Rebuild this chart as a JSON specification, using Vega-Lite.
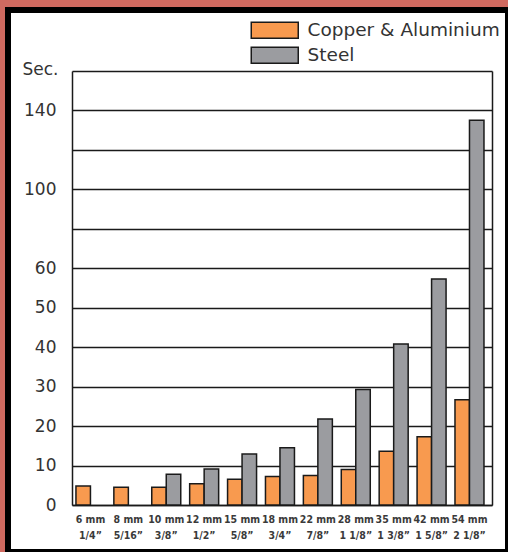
{
  "$schema": "https://vega.github.io/schema/vega-lite/v6.json",
  "width": 500,
  "height": 542,
  "autosize": {"type": "none"},
  "padding": {"left": 8, "top": 10, "right": 0, "bottom": 0},
  "background": "#d06a60",
  "config": {"view": {"fill": "white", "stroke": "black", "strokeWidth": 6}},
  "data": {"values": [
    {"size": "6 mm|1/4”", "metal": "Copper & Aluminium", "sec": 4.8},
    {"size": "8 mm|5/16”", "metal": "Copper & Aluminium", "sec": 4.5},
    {"size": "10 mm|3/8”", "metal": "Copper & Aluminium", "sec": 4.5},
    {"size": "10 mm|3/8”", "metal": "Steel", "sec": 7.8},
    {"size": "12 mm|1/2”", "metal": "Copper & Aluminium", "sec": 5.4},
    {"size": "12 mm|1/2”", "metal": "Steel", "sec": 9.1},
    {"size": "15 mm|5/8”", "metal": "Copper & Aluminium", "sec": 6.5},
    {"size": "15 mm|5/8”", "metal": "Steel", "sec": 12.9},
    {"size": "18 mm|3/4”", "metal": "Copper & Aluminium", "sec": 7.2},
    {"size": "18 mm|3/4”", "metal": "Steel", "sec": 14.5},
    {"size": "22 mm|7/8”", "metal": "Copper & Aluminium", "sec": 7.5},
    {"size": "22 mm|7/8”", "metal": "Steel", "sec": 21.8},
    {"size": "28 mm|1 1/8”", "metal": "Copper & Aluminium", "sec": 9.0},
    {"size": "28 mm|1 1/8”", "metal": "Steel", "sec": 29.3},
    {"size": "35 mm|1 3/8”", "metal": "Copper & Aluminium", "sec": 13.6},
    {"size": "35 mm|1 3/8”", "metal": "Steel", "sec": 40.8},
    {"size": "42 mm|1 5/8”", "metal": "Copper & Aluminium", "sec": 17.3},
    {"size": "42 mm|1 5/8”", "metal": "Steel", "sec": 57.3},
    {"size": "54 mm|2 1/8”", "metal": "Copper & Aluminium", "sec": 26.7},
    {"size": "54 mm|2 1/8”", "metal": "Steel", "sec": 135}
  ]},
  "layer": [
    {
      "mark": {"type": "bar", "stroke": "#1a1a1a", "strokeWidth": 1.5},
      "encoding": {
        "x": {
          "field": "size", "type": "nominal", "sort": null,
          "scale": {
            "domain": ["6 mm|1/4”", "8 mm|5/16”", "10 mm|3/8”", "12 mm|1/2”", "15 mm|5/8”", "18 mm|3/4”", "22 mm|7/8”", "28 mm|1 1/8”", "35 mm|1 3/8”", "42 mm|1 5/8”", "54 mm|2 1/8”"],
            "range": [64, 484], "paddingInner": 0.235, "paddingOuter": 0.158, "align": 0.33
          },
          "axis": {
            "orient": "bottom", "offset": -47, "ticks": false, "grid": false,
            "domainColor": "#1a1a1a", "domainWidth": 1.5,
            "labelExpr": "split(datum.value, '|')", "labelAngle": 0,
            "labelFont": "DejaVu Sans Condensed", "labelFontSize": 10.5, "labelFontWeight": "bold", "labelColor": "#3a3a3a",
            "labelPadding": 9, "labelLineHeight": 16, "labelOverlap": false, "title": null
          }
        },
        "xOffset": {"field": "metal", "type": "nominal", "scale": {"domain": ["Copper & Aluminium", "Steel"], "paddingInner": 0, "paddingOuter": 0}},
        "y": {
          "field": "sec", "type": "quantitative",
          "scale": {"type": "linear", "domain": [0, 60, 160], "range": [495, 258.3, 61], "nice": false, "zero": false},
          "axis": {
            "values": [0, 10, 20, 30, 40, 50, 60, 80, 100, 120, 140, 160],
            "labelExpr": "datum.value == 80 || datum.value == 120 || datum.value == 160 ? '' : datum.label",
            "offset": -64, "ticks": false, "grid": true,
            "gridColor": "#1a1a1a", "gridWidth": 1.5, "gridOpacity": 1,
            "domainColor": "#1a1a1a", "domainWidth": 1.5,
            "labelFont": "DejaVu Sans", "labelFontSize": 17, "labelColor": "#333",
            "labelPadding": 16, "labelFlush": false, "labelOverlap": false, "labelBound": false,
            "title": "Sec.", "titleAngle": 0, "titleX": -50, "titleY": 64,
            "titleAlign": "left", "titleBaseline": "alphabetic",
            "titleFont": "DejaVu Sans", "titleFontSize": 17, "titleFontWeight": "normal", "titleColor": "#333"
          }
        },
        "color": {
          "field": "metal", "type": "nominal",
          "scale": {"domain": ["Copper & Aluminium", "Steel"], "range": ["#f89a4f", "#9b9ca0"]},
          "legend": {
            "orient": "none", "legendX": 242, "legendY": 11, "title": null,
            "symbolType": "M-1,-1H4.875V1H-1Z", "symbolSize": 256,
            "symbolStrokeColor": "#1a1a1a", "symbolStrokeWidth": 1.5, "symbolOpacity": 1,
            "rowPadding": 2, "labelLimit": 400,
            "labelFont": "DejaVu Sans", "labelFontSize": 18.5, "labelColor": "#333", "labelOffset": 39
          }
        }
      }
    },
    {
      "mark": {"type": "bar", "opacity": 0},
      "encoding": {
        "x": {"field": "size", "type": "nominal", "sort": null},
        "xOffset": {"field": "metal", "type": "nominal"},
        "y": {
          "field": "sec", "type": "quantitative",
          "axis": {"orient": "right", "offset": -16, "labels": false, "ticks": false, "grid": false, "domainColor": "#1a1a1a", "domainWidth": 1.5, "title": null}
        }
      }
    }
  ],
  "resolve": {"axis": {"y": "independent"}}
}
